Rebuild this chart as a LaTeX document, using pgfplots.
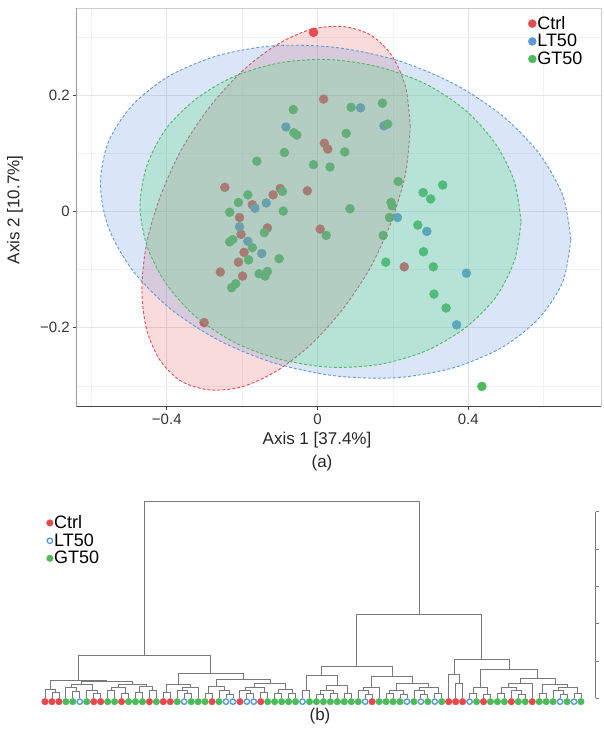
\documentclass[border=0pt]{standalone}
\usepackage{pgfplots}
\pgfplotsset{compat=1.18}
\usepackage{fontspec}
\setmainfont{Liberation Sans}
\definecolor{ctrl}{RGB}{232,71,78}
\definecolor{lt}{RGB}{91,155,213}
\definecolor{gt}{RGB}{77,187,92}
\definecolor{ctrlfill}{RGB}{232,90,90}
\definecolor{ltfill}{RGB}{100,150,225}
\definecolor{gtfill}{RGB}{80,215,120}
\definecolor{gridmaj}{RGB}{228,228,228}
\definecolor{gridmin}{RGB}{242,242,242}
\definecolor{frame}{RGB}{205,205,205}
\definecolor{axdark}{RGB}{70,70,70}
\definecolor{dend}{RGB}{120,120,120}
\begin{document}
\begin{tikzpicture}
\useasboundingbox (0,0) rectangle (603pt,733pt);
% ---------------- (a) PCoA ----------------
\begin{axis}[
  at={(76.7pt,326.3pt)}, anchor=south west, scale only axis,
  width=524.3pt, height=398.7pt,
  xmin=-0.639, xmax=0.752, ymin=-0.336, ymax=0.351,
  xtick={-0.4,0,0.4}, xticklabels={−0.4,0,0.4},
  ytick={-0.2,0,0.2}, yticklabels={−0.2,0,0.2},
  minor xtick={-0.6,-0.2,0.2,0.6}, minor ytick={-0.3,-0.1,0.1,0.3},
  grid=both,
  major grid style={color=gridmaj, line width=0.7pt},
  minor grid style={color=gridmin, line width=0.6pt},
  axis line style={color=frame, line width=0.7pt},
  tick pos=left, tick align=outside,
  major tick length=3.5pt, minor tick length=0pt,
  tick style={color=axdark, line width=0.7pt},
  tick label style={font=\fontsize{15}{15}\selectfont, text=black!80},
  clip marker paths=true,
  legend style={at={(0.861,0.982)}, anchor=north west, draw=none, fill=none,
    font=\fontsize{18}{18}\selectfont, row sep=1.5pt, inner sep=0pt,
    nodes={inner sep=1pt}},
  legend cell align=left,
  legend image code/.code={\draw[#1, mark size=4pt] plot coordinates {(4pt,0pt)};},
]
\addplot[only marks, color=ctrl, mark=*, mark size=4.5pt, mark options={fill=ctrl}] coordinates {
(-0.011,0.309) (0.016,0.194) (0.018,0.118) (0.027,0.108) (-0.246,0.042) (-0.099,0.040)
(-0.118,0.029) (-0.027,0.036) (-0.173,0.012) (-0.207,-0.010) (-0.133,-0.028) (-0.203,-0.039)
(0.007,-0.030) (-0.195,-0.070) (-0.210,-0.087) (-0.258,-0.104) (-0.199,-0.111) (0.230,-0.095)
(-0.301,-0.191)};
\addlegendentry{Ctrl}
\addplot[only marks, color=lt, mark=*, mark size=4.5pt, mark options={fill=lt}] coordinates {
(0.114,0.179) (-0.084,0.146) (0.176,0.148) (-0.136,0.015) (-0.166,0.006) (-0.207,-0.026)
(-0.185,-0.051) (-0.148,-0.072) (0.212,-0.010) (0.290,-0.034) (0.395,-0.106) (0.369,-0.195)};
\addlegendentry{LT50}
\addplot[only marks, color=gt, mark=*, mark size=4.5pt, mark options={fill=gt}] coordinates {
(-0.0645,0.176) (0.089,0.180) (0.172,0.187) (0.186,0.151) (-0.063,0.136) (-0.055,0.132)
(0.076,0.135) (-0.088,0.102) (0.072,0.103) (-0.161,0.087) (-0.011,0.081) (0.033,0.077)
(0.214,0.052) (0.332,0.046) (0.280,0.033) (0.300,0.022) (-0.185,0.029) (-0.093,0.035)
(-0.210,0.016) (0.195,0.016) (0.198,0.010) (-0.233,-0.001) (-0.091,0.001) (0.086,0.005)
(0.191,-0.010) (0.266,-0.023) (-0.141,-0.036) (0.023,-0.041) (0.174,-0.041) (-0.225,-0.048)
(-0.233,-0.052) (-0.173,-0.062) (0.281,-0.069) (-0.102,-0.081) (-0.183,-0.083) (0.181,-0.087)
(0.307,-0.095) (-0.155,-0.107) (-0.133,-0.103) (-0.139,-0.111) (-0.217,-0.124) (-0.228,-0.131)
(0.309,-0.142) (0.341,-0.166) (0.436,-0.301)};
\addlegendentry{GT50}
% confidence ellipses (boundary points)
\addplot[forget plot, smooth, draw=ctrl, line width=0.9pt, dash pattern=on 3pt off 2pt,
  fill=ctrlfill, fill opacity=0.22] coordinates {
(0.246,0.146) (0.234,0.214) (0.198,0.268) (0.142,0.304) (0.068,0.319) (-0.018,0.314)
(-0.110,0.287) (-0.202,0.241) (-0.288,0.179) (-0.362,0.106) (-0.418,0.025) (-0.454,-0.056)
(-0.466,-0.134) (-0.454,-0.202) (-0.418,-0.256) (-0.362,-0.292) (-0.288,-0.307) (-0.202,-0.302)
(-0.110,-0.275) (-0.018,-0.229) (0.068,-0.167) (0.142,-0.094) (0.198,-0.013) (0.234,0.068)
(0.246,0.146)};
\addplot[forget plot, smooth, draw=lt, line width=0.9pt, dash pattern=on 3pt off 2pt,
  fill=ltfill, fill opacity=0.24] coordinates {
(0.672,-0.048) (0.651,0.027) (0.588,0.100) (0.489,0.166) (0.360,0.221) (0.210,0.261)
(0.048,0.283) (-0.114,0.286) (-0.264,0.269) (-0.393,0.234) (-0.492,0.183) (-0.555,0.120)
(-0.576,0.048) (-0.555,-0.027) (-0.492,-0.100) (-0.393,-0.166) (-0.264,-0.221) (-0.114,-0.261)
(0.048,-0.283) (0.210,-0.286) (0.360,-0.269) (0.489,-0.234) (0.588,-0.183) (0.651,-0.120)
(0.672,-0.048)};
\addplot[forget plot, smooth, draw=gt, line width=0.9pt, dash pattern=on 3pt off 2pt,
  fill=gtfill, fill opacity=0.26] coordinates {
(0.540,-0.017) (0.522,0.052) (0.472,0.117) (0.392,0.175) (0.287,0.220) (0.165,0.249)
(0.0345,0.262) (-0.096,0.257) (-0.218,0.234) (-0.323,0.194) (-0.403,0.142) (-0.453,0.079)
(-0.471,0.011) (-0.453,-0.058) (-0.403,-0.123) (-0.323,-0.181) (-0.218,-0.226) (-0.096,-0.255)
(0.0345,-0.268) (0.165,-0.263) (0.287,-0.240) (0.392,-0.200) (0.472,-0.148) (0.522,-0.085)
(0.540,-0.017)};
\draw[axdark, line width=0.8pt] (rel axis cs:0,1) -- (rel axis cs:0,0) -- (rel axis cs:1,0);
\end{axis}
\node[font=\fontsize{17}{17}\selectfont, text=black!85] at (317pt,293pt) {Axis 1 [37.4\%]};
\node[font=\fontsize{17}{17}\selectfont, text=black!85, rotate=90] at (15pt,523pt) {Axis 2 [10.7\%]};
\node[font=\fontsize{17}{17}\selectfont, text=black!85] at (322pt,270pt) {(a)};
% ---------------- (b) dendrogram ----------------
\begin{axis}[
  at={(30pt,34.7pt)}, anchor=south west, scale only axis,
  width=565.7pt, height=186.6pt,
  xmin=-1.155, xmax=80.12, ymin=0, ymax=5,
  axis x line=none, axis y line*=right,
  xtick=\empty, ytick={0,1,2,3,4,5}, yticklabels={},
  tick align=outside, major tick length=3.7pt,
  axis line style={color=dend, line width=0.8pt},
  tick style={color=dend, line width=0.8pt},
  clip=false, unbounded coords=jump,
  legend style={at={(0.029,0.985)}, anchor=north west, draw=none, fill=none,
    font=\fontsize{18}{18}\selectfont, row sep=1.5pt, inner sep=0pt,
    nodes={inner sep=1pt}},
  legend cell align=left,
  legend image code/.code={\draw[#1] plot coordinates {(3pt,0pt)};},
]
\addplot[forget plot, draw=dend, line width=0.8pt] coordinates {
(2,0)(2,.15)(3,.15)(3,0) (nan,nan)
(1,0)(1,.25)(2.5,.25)(2.5,.15) (nan,nan)
(5,0)(5,.18)(6,.18)(6,0) (nan,nan)
(4,0)(4,.28)(5.5,.28)(5.5,.18) (nan,nan)
(8,0)(8,.12)(9,.12)(9,0) (nan,nan)
(7,0)(7,.22)(8.5,.22)(8.5,.12) (nan,nan)
(4.75,.28)(4.75,.36)(7.75,.36)(7.75,.22) (nan,nan)
(10,0)(10,.2)(11,.2)(11,0) (nan,nan)
(12,0)(12,.14)(13,.14)(13,0) (nan,nan)
(10.5,.2)(10.5,.3)(12.5,.3)(12.5,.14) (nan,nan)
(14,0)(14,.16)(15,.16)(15,0) (nan,nan)
(16,0)(16,.22)(17,.22)(17,0) (nan,nan)
(14.5,.16)(14.5,.32)(16.5,.32)(16.5,.22) (nan,nan)
(11.5,.3)(11.5,.38)(15.5,.38)(15.5,.32) (nan,nan)
(6.25,.36)(6.25,.44)(13.5,.44)(13.5,.38) (nan,nan)
(1.75,.25)(1.75,.49)(9.875,.49)(9.875,.44) (nan,nan)
(18,0)(18,.15)(19,.15)(19,0) (nan,nan)
(21,0)(21,.12)(22,.12)(22,0) (nan,nan)
(20,0)(20,.22)(21.5,.22)(21.5,.12) (nan,nan)
(20.75,.22)(20.75,.3)(23,.3)(23,0) (nan,nan)
(18.5,.15)(18.5,.38)(21.875,.38)(21.875,.3) (nan,nan)
(24,0)(24,.12)(25,.12)(25,0) (nan,nan)
(27,0)(27,.1)(28,.1)(28,0) (nan,nan)
(26,0)(26,.2)(27.5,.2)(27.5,.1) (nan,nan)
(24.5,.12)(24.5,.32)(26.75,.32)(26.75,.2) (nan,nan)
(30,0)(30,.12)(31,.12)(31,0) (nan,nan)
(29,0)(29,.22)(30.5,.22)(30.5,.12) (nan,nan)
(32,0)(32,.16)(33,.16)(33,0) (nan,nan)
(29.75,.22)(29.75,.3)(32.5,.3)(32.5,.16) (nan,nan)
(34,0)(34,.12)(35,.12)(35,0) (nan,nan)
(36,0)(36,.14)(37,.14)(37,0) (nan,nan)
(34.5,.12)(34.5,.24)(36.5,.24)(36.5,.14) (nan,nan)
(31.125,.3)(31.125,.4)(35.5,.4)(35.5,.24) (nan,nan)
(25.625,.32)(25.625,.5)(33.3125,.5)(33.3125,.4) (nan,nan)
(20.1875,.38)(20.1875,.67)(29.469,.67)(29.469,.5) (nan,nan)
(5.8125,.49)(5.8125,1.14)(24.828,1.14)(24.828,.67) (nan,nan)
(38,0)(38,.2)(39,.2)(39,0) (nan,nan)
(40,0)(40,.1)(41,.1)(41,0) (nan,nan)
(42,0)(42,.14)(43,.14)(43,0) (nan,nan)
(40.5,.1)(40.5,.22)(42.5,.22)(42.5,.14) (nan,nan)
(44,0)(44,.12)(45,.12)(45,0) (nan,nan)
(41.5,.22)(41.5,.35)(44.5,.35)(44.5,.12) (nan,nan)
(38.5,.2)(38.5,.62)(43,.62)(43,.35) (nan,nan)
(47,0)(47,.1)(48,.1)(48,0) (nan,nan)
(46,0)(46,.2)(47.5,.2)(47.5,.1) (nan,nan)
(46.75,.2)(46.75,.3)(49,.3)(49,0) (nan,nan)
(50,0)(50,.12)(51,.12)(51,0) (nan,nan)
(52,0)(52,.1)(53,.1)(53,0) (nan,nan)
(50.5,.12)(50.5,.2)(52.5,.2)(52.5,.1) (nan,nan)
(55,0)(55,.1)(56,.1)(56,0) (nan,nan)
(54,0)(54,.22)(55.5,.22)(55.5,.1) (nan,nan)
(57,0)(57,.14)(58,.14)(58,0) (nan,nan)
(54.75,.22)(54.75,.28)(57.5,.28)(57.5,.14) (nan,nan)
(51.5,.2)(51.5,.4)(56.125,.4)(56.125,.28) (nan,nan)
(47.875,.3)(47.875,.6)(53.8125,.6)(53.8125,.4) (nan,nan)
(40.75,.62)(40.75,.85)(50.84,.85)(50.84,.6) (nan,nan)
(60,0)(60,.4)(61,.4)(61,0) (nan,nan)
(59,0)(59,.64)(60.5,.64)(60.5,.4) (nan,nan)
(62,0)(62,.12)(63,.12)(63,0) (nan,nan)
(64,0)(64,.1)(65,.1)(65,0) (nan,nan)
(62.5,.12)(62.5,.3)(64.5,.3)(64.5,.1) (nan,nan)
(66,0)(66,.12)(67,.12)(67,0) (nan,nan)
(69,0)(69,.1)(70,.1)(70,0) (nan,nan)
(68,0)(68,.2)(69.5,.2)(69.5,.1) (nan,nan)
(66.5,.12)(66.5,.28)(68.75,.28)(68.75,.2) (nan,nan)
(67.625,.28)(67.625,.4)(71,.4)(71,0) (nan,nan)
(72,0)(72,.12)(73,.12)(73,0) (nan,nan)
(75,0)(75,.1)(76,.1)(76,0) (nan,nan)
(74,0)(74,.2)(75.5,.2)(75.5,.1) (nan,nan)
(77,0)(77,.14)(78,.14)(78,0) (nan,nan)
(74.75,.2)(74.75,.3)(77.5,.3)(77.5,.14) (nan,nan)
(72.5,.12)(72.5,.36)(76.125,.36)(76.125,.3) (nan,nan)
(69.3125,.4)(69.3125,.52)(74.3125,.52)(74.3125,.36) (nan,nan)
(63.5,.3)(63.5,.78)(71.8125,.78)(71.8125,.52) (nan,nan)
(59.75,.64)(59.75,1.05)(67.656,1.05)(67.656,.78) (nan,nan)
(45.8,.85)(45.8,2.25)(63.703,2.25)(63.703,1.05) (nan,nan)
(15.32,1.14)(15.32,5.27)(54.75,5.27)(54.75,2.25)
};
\addplot[only marks, color=ctrl, mark=*, mark size=3.3pt, mark options={fill=ctrl}] coordinates {
(1,-0.09)(2,-0.09)(3,-0.09)(8,-0.09)(9,-0.09)(12,-0.09)(16,-0.09)(18,-0.09)(19,-0.09)
(25,-0.09)(29,-0.09)(32,-0.09)(48,-0.09)(59,-0.09)(60,-0.09)(61,-0.09)(64,-0.09)(68,-0.09)(71,-0.09)};
\addlegendentry{Ctrl}
\addplot[only marks, color=lt, mark=*, mark size=2.7pt, mark options={draw=lt, fill=white, line width=1.4pt}] coordinates {
(6,-0.09)(21,-0.09)(27,-0.09)(28,-0.09)(30,-0.09)(31,-0.09)(38,-0.09)(47,-0.09)(53,-0.09)
(55,-0.09)(57,-0.09)(62,-0.09)(75,-0.09)(77,-0.09)};
\addlegendentry{LT50}
\addplot[only marks, color=gt, mark=*, mark size=3.3pt, mark options={fill=gt}] coordinates {
(4,-0.09)(5,-0.09)(7,-0.09)(10,-0.09)(11,-0.09)(13,-0.09)(14,-0.09)(15,-0.09)(17,-0.09)
(20,-0.09)(22,-0.09)(23,-0.09)(24,-0.09)(26,-0.09)(33,-0.09)(34,-0.09)(35,-0.09)(36,-0.09)
(37,-0.09)(39,-0.09)(40,-0.09)(41,-0.09)(42,-0.09)(43,-0.09)(44,-0.09)(45,-0.09)(46,-0.09)
(49,-0.09)(50,-0.09)(51,-0.09)(52,-0.09)(54,-0.09)(56,-0.09)(58,-0.09)(63,-0.09)(65,-0.09)
(66,-0.09)(67,-0.09)(69,-0.09)(70,-0.09)(72,-0.09)(73,-0.09)(74,-0.09)(76,-0.09)(78,-0.09)};
\addlegendentry{GT50}
\end{axis}
\node[font=\fontsize{17}{17}\selectfont, text=black!85] at (320pt,17pt) {(b)};
\end{tikzpicture}
\end{document}
